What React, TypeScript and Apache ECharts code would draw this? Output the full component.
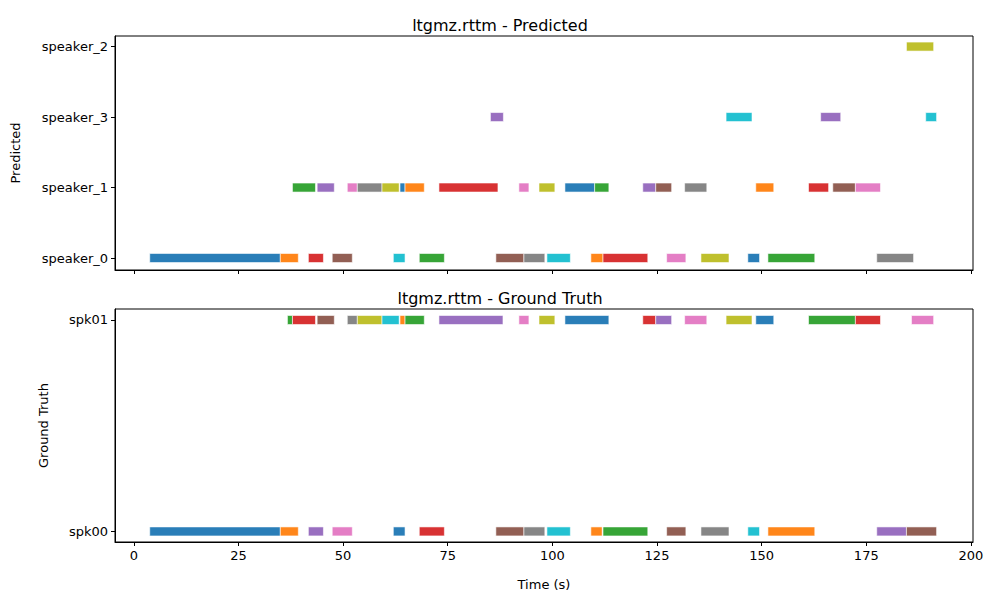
import React from "react";
import * as echarts from "echarts";

const tab10 = ["#1f77b4", "#ff7f0e", "#2ca02c", "#d62728", "#9467bd", "#8c564b", "#e377c2", "#7f7f7f", "#bcbd22", "#17becf"];

const predLabels = ["speaker_0", "speaker_1", "speaker_3", "speaker_2"];
const truthLabels = ["spk00", "spk01"];

// [row, start, end, colorIndex]
const predSegments: [number, number, number, number][] = [
  [0, 3.8, 35.0, 0], [0, 35.0, 39.3, 1], [0, 41.7, 45.3, 3], [0, 47.4, 52.2, 5],
  [0, 62.0, 64.8, 9], [0, 68.2, 74.2, 2], [0, 86.5, 93.2, 5], [0, 93.2, 98.2, 7],
  [0, 98.7, 104.3, 9], [0, 109.2, 112.1, 1], [0, 112.1, 122.8, 3], [0, 127.3, 131.9, 6],
  [0, 135.5, 142.2, 8], [0, 146.7, 149.5, 0], [0, 151.5, 162.7, 2], [0, 177.5, 186.3, 7],
  [1, 37.9, 43.4, 2], [1, 43.8, 47.9, 4], [1, 51.0, 53.4, 6], [1, 53.4, 59.3, 7],
  [1, 59.3, 63.4, 8], [1, 63.6, 64.8, 0], [1, 64.8, 69.4, 1], [1, 72.9, 87.0, 3],
  [1, 92.0, 94.4, 6], [1, 96.8, 100.6, 8], [1, 103.0, 110.1, 0], [1, 110.1, 113.5, 2],
  [1, 121.6, 124.7, 4], [1, 124.7, 128.5, 5], [1, 131.6, 136.9, 7], [1, 148.6, 152.9, 1],
  [1, 161.2, 166.0, 3], [1, 167.0, 172.4, 5], [1, 172.4, 178.4, 6],
  [2, 85.2, 88.3, 4], [2, 141.5, 147.7, 9], [2, 164.1, 168.9, 4], [2, 189.2, 191.8, 9],
  [3, 184.6, 191.1, 8],
];

const truthSegments: [number, number, number, number][] = [
  [0, 3.8, 35.0, 0], [0, 35.0, 39.3, 1], [0, 41.7, 45.3, 4], [0, 47.4, 52.2, 6],
  [0, 62.0, 64.8, 0], [0, 68.2, 74.2, 3], [0, 86.5, 93.2, 5], [0, 93.2, 98.2, 7],
  [0, 98.7, 104.3, 9], [0, 109.2, 111.9, 1], [0, 112.1, 122.8, 2], [0, 127.3, 131.9, 5],
  [0, 135.5, 142.2, 7], [0, 146.7, 149.5, 9], [0, 151.5, 162.7, 1], [0, 177.5, 184.6, 4],
  [0, 184.6, 191.8, 5],
  [1, 36.7, 37.9, 2], [1, 37.9, 43.4, 3], [1, 43.8, 47.9, 5], [1, 51.0, 53.4, 7],
  [1, 53.4, 59.3, 8], [1, 59.3, 63.4, 9], [1, 63.6, 64.8, 1], [1, 64.8, 69.4, 2],
  [1, 72.9, 88.2, 4], [1, 92.0, 94.4, 6], [1, 96.8, 100.6, 8], [1, 103.0, 113.5, 0],
  [1, 121.6, 124.7, 3], [1, 124.7, 128.5, 4], [1, 131.6, 136.9, 6], [1, 141.5, 147.7, 8],
  [1, 148.6, 152.9, 0], [1, 161.2, 172.4, 2], [1, 172.4, 178.4, 3], [1, 185.8, 191.1, 6],
];

const xTicks = [0, 25, 50, 75, 100, 125, 150, 175, 200];

const font = "DejaVu Sans";

function renderItem(params: any, api: any) {
  const row = api.value(0);
  const start = api.coord([api.value(1), row]);
  const end = api.coord([api.value(2), row]);
  const h = 9;
  return {
    type: "rect",
    shape: { x: start[0], y: start[1] - h / 2, width: end[0] - start[0], height: h },
    style: { fill: tab10[api.value(3)], stroke: "rgba(255,255,255,0.6)", lineWidth: 1, opacity: 0.95 },
  };
}

export default function App() {
  const ref = React.useRef<HTMLDivElement>(null);

  React.useEffect(() => {
    if (!ref.current) return;
    document.body.style.margin = "0";
    const c = echarts.init(ref.current, null, { renderer: "svg" });
    const xAxisBase = {
      type: "value",
      min: -4.5,
      max: 200.5,
      splitLine: { show: false },
      axisLine: { onZero: false, lineStyle: { color: "#000" } },
      axisTick: { show: true, length: 4, lineStyle: { color: "#000" }, customValues: xTicks },
      axisLabel: { color: "#000", fontFamily: font, fontSize: 13, margin: 7, customValues: xTicks },
    };
    const yBase = (labels: string[], min: number, max: number, name: string) => ({
      type: "value",
      min,
      max,
      name,
      nameLocation: "middle",
      nameTextStyle: { color: "#000", fontFamily: font, fontSize: 13 },
      splitLine: { show: false },
      axisLine: { show: true, onZero: false, lineStyle: { color: "#000" } },
      axisTick: { show: true, length: 4, lineStyle: { color: "#000" }, customValues: labels.map((_, i) => i) },
      axisLabel: {
        color: "#000",
        fontFamily: font,
        fontSize: 13,
        margin: 7,
        customValues: labels.map((_, i) => i),
        formatter: (v: number) => labels[Math.round(v)] ?? "",
      },
    });
    c.setOption({
      animation: false,
      title: [
        { text: "ltgmz.rttm - Predicted", left: "center", top: 12, textStyle: { fontFamily: font, fontSize: 16, fontWeight: "normal", color: "#000" } },
        { text: "ltgmz.rttm - Ground Truth", left: "center", top: 285, textStyle: { fontFamily: font, fontSize: 16, fontWeight: "normal", color: "#000" } },
      ],
      grid: [
        { left: 115, right: 27, top: 36, height: 234, show: true, borderColor: "#000", borderWidth: 1 },
        { left: 115, right: 27, top: 309, height: 233, show: true, borderColor: "#000", borderWidth: 1 },
      ],
      xAxis: [
        { ...xAxisBase, gridIndex: 0, axisLabel: { ...xAxisBase.axisLabel, show: false } },
        { ...xAxisBase, gridIndex: 1, name: "Time (s)", nameLocation: "middle", nameGap: 36, nameTextStyle: { color: "#000", fontFamily: font, fontSize: 13 } },
      ],
      yAxis: [
        { ...yBase(predLabels, -0.17, 3.15, "Predicted"), gridIndex: 0, nameGap: 93 },
        { ...yBase(truthLabels, -0.05, 1.052, "Ground Truth"), gridIndex: 1, nameGap: 65 },
      ],
      series: [
        { type: "custom", xAxisIndex: 0, yAxisIndex: 0, renderItem, data: predSegments, encode: { x: [1, 2], y: 0 } },
        { type: "custom", xAxisIndex: 1, yAxisIndex: 1, renderItem, data: truthSegments, encode: { x: [1, 2], y: 0 } },
      ],
    });
    return () => c.dispose();
  }, []);

  return <div ref={ref} style={{ width: 1000, height: 600 }} />;
}
